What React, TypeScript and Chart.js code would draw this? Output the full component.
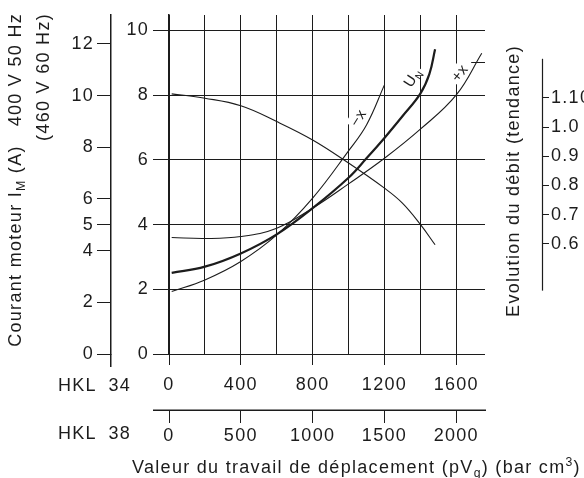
import { useEffect, useRef } from 'react';
import { Chart, registerables } from 'chart.js';

Chart.register(...registerables);

// ---- data ----
const pvUN = [15, 200, 400, 600, 800, 1000, 1100, 1200, 1300, 1400, 1450, 1482];
const currentUN = [2.51, 2.7, 3.11, 3.7, 4.51, 5.45, 6.05, 6.68, 7.35, 8.05, 8.65, 9.42];
const pvMinus = [15, 200, 400, 600, 800, 1000, 1100, 1200];
const currentMinus = [1.93, 2.29, 2.86, 3.68, 4.82, 6.28, 7.08, 8.32];
const pvPlus = [15, 200, 400, 600, 800, 1000, 1200, 1400, 1600, 1742];
const currentPlus = [3.6, 3.57, 3.63, 3.89, 4.51, 5.26, 6.05, 6.95, 8.01, 9.3];
const pvFlow = [15, 200, 400, 600, 800, 1000, 1200, 1300, 1400, 1482];
const flowTrend = [1.114, 1.099, 1.073, 1.019, 0.956, 0.877, 0.791, 0.74, 0.667, 0.597];

const hkl34Grid = [0, 200, 400, 600, 800, 1000, 1200, 1400, 1600];
const hkl34Labels = [0, 400, 800, 1200, 1600];
const hkl38Ticks = [0, 500, 1000, 1500, 2000];
const current460Ticks = [0, 2, 4, 6, 8, 10];
const current400Ticks = [0, 2, 4, 5, 6, 8, 10, 12];
const flowTicks = [0.6, 0.7, 0.8, 0.9, 1.0, 1.1];
const flowTickLabels = ['0.6', '0.7', '0.8', '0.9', '1.0', '1.10'];

const ink = '#1c1c1c';
const FAMILY = "'Liberation Sans', Arial, Helvetica, sans-serif";
const FS = 18;
const SPACING = '1.3px';
const tickFont = { family: FAMILY, size: FS };

type Seg = { t: string; k?: 'sub' | 'sup' };

function drawRich(ctx: CanvasRenderingContext2D, segs: Seg[], x: number, y: number, size: number, align: 'left' | 'center' | 'right') {
  const f = (s: Seg) => `${s.k ? size * 0.68 : size}px ${FAMILY}`;
  let total = 0;
  const widths = segs.map((s) => {
    ctx.font = f(s);
    const w = ctx.measureText(s.t).width;
    total += w;
    return w;
  });
  let cx = align === 'left' ? x : align === 'center' ? x - total / 2 : x - total;
  ctx.textAlign = 'left';
  ctx.textBaseline = 'alphabetic';
  segs.forEach((s, i) => {
    ctx.font = f(s);
    const dy = s.k === 'sub' ? size * 0.22 : s.k === 'sup' ? -size * 0.38 : 0;
    ctx.fillText(s.t, cx, y + dy);
    cx += widths[i];
  });
  return total;
}

function pts(xs: number[], ys: number[]) {
  return xs.map((v, i) => ({ x: v, y: ys[i] }));
}

const spacing = {
  id: 'spacing',
  beforeLayout(chart: any) {
    (chart.ctx as any).letterSpacing = SPACING;
  },
  beforeDraw(chart: any) {
    (chart.ctx as any).letterSpacing = SPACING;
  },
};

const decor = {
  id: 'decor',
  afterDraw(chart: any) {
    const { ctx, chartArea: a, scales } = chart;
    const { x, x2, y, yO, yR } = scales;
    ctx.save();
    (ctx as any).letterSpacing = SPACING;
    ctx.strokeStyle = ink;
    ctx.fillStyle = ink;
    // outer current axis extension below the plot
    ctx.lineWidth = 1.5;
    ctx.beginPath();
    ctx.moveTo(Math.round(yO.right) - 0.25, a.bottom);
    ctx.lineTo(Math.round(yO.right) - 0.25, a.bottom + 13);
    ctx.stroke();
    // second (HKL 38) axis line
    ctx.beginPath();
    ctx.moveTo(a.left - 16, Math.round(x2.top) + 0.25);
    ctx.lineTo(a.right + 1, Math.round(x2.top) + 0.25);
    ctx.stroke();
    // flow axis line (partial)
    ctx.lineWidth = 1.2;
    ctx.beginPath();
    ctx.moveTo(Math.round(yR.left) + 0.5, yR.getPixelForValue(1.234));
    ctx.lineTo(Math.round(yR.left) + 0.5, yR.getPixelForValue(0.44));
    ctx.stroke();

    // axis titles
    ctx.save();
    ctx.translate(21, 13);
    ctx.rotate(-Math.PI / 2);
    drawRich(ctx, [{ t: 'Courant moteur I' }, { t: 'M', k: 'sub' }, { t: ' (A)   400 V 50 Hz' }], 0, 0, FS, 'right');
    ctx.restore();
    ctx.save();
    ctx.translate(49, 13);
    ctx.rotate(-Math.PI / 2);
    drawRich(ctx, [{ t: '(460 V 60 Hz)' }], 0, 0, FS, 'right');
    ctx.restore();
    ctx.save();
    ctx.translate(519, 181);
    ctx.rotate(-Math.PI / 2);
    drawRich(ctx, [{ t: 'Evolution du débit (tendance)' }], 0, 0, FS, 'center');
    ctx.restore();
    drawRich(ctx, [{ t: 'Valeur du travail de déplacement (pV' }, { t: 'g', k: 'sub' }, { t: ') (bar cm' }, { t: '3', k: 'sup' }, { t: ')' }], 132, 473, FS, 'left');

    // HKL row labels
    const b1 = x.top + 37;
    const b2 = x2.top + 29;
    drawRich(ctx, [{ t: 'HKL' }], 58, b1, FS, 'left');
    drawRich(ctx, [{ t: '34' }], 131, b1, FS, 'right');
    drawRich(ctx, [{ t: 'HKL' }], 58, b2, FS, 'left');
    drawRich(ctx, [{ t: '38' }], 131, b2, FS, 'right');

    // curve labels
    (ctx as any).letterSpacing = '0.5px';
    const label = (segs: Seg[], dx: number, dy: number, ang: number) => {
      const px = x.getPixelForValue(dx);
      const py = y.getPixelForValue(dy);
      ctx.save();
      ctx.translate(px, py);
      ctx.rotate(ang);
      let w = 0;
      segs.forEach((s) => {
        ctx.font = `${s.k ? 15 * 0.68 : 15}px ${FAMILY}`;
        w += ctx.measureText(s.t).width;
      });
      ctx.fillStyle = '#ffffff';
      ctx.fillRect(-w / 2 - 2, -8, w + 4, 14);
      ctx.fillStyle = ink;
      drawRich(ctx, segs, 0, 5, 15, 'center');
      ctx.restore();
    };
    label([{ t: '−x' }], 1053, 7.3, -1.0);
    label([{ t: 'U' }, { t: 'N', k: 'sub' }], 1355, 8.55, -1.0);
    label([{ t: '+x' }], 1617, 8.69, -0.9);
    // small dash near the +x label
    ctx.lineWidth = 1;
    ctx.beginPath();
    ctx.moveTo(x.getPixelForValue(1683), Math.round(y.getPixelForValue(9.03)) + 0.5);
    ctx.lineTo(x.getPixelForValue(1760), Math.round(y.getPixelForValue(9.03)) + 0.5);
    ctx.stroke();

    ctx.restore();
  },
};

export default function App() {
  const ref = useRef<HTMLCanvasElement>(null);
  useEffect(() => {
    document.body.style.margin = '0';
    const canvas = ref.current!;
    const thin = { borderColor: ink, borderWidth: 1.1, pointRadius: 0, showLine: true, tension: 0.4, fill: false };
    const chart = new Chart(canvas, {
      type: 'scatter',
      data: {
        datasets: [
          { ...thin, label: 'débit', data: pts(pvFlow, flowTrend), yAxisID: 'yR' },
          { ...thin, label: '-x', data: pts(pvMinus, currentMinus), yAxisID: 'y' },
          { ...thin, label: '+x', data: pts(pvPlus, currentPlus), yAxisID: 'y' },
          { ...thin, label: 'UN', data: pts(pvUN, currentUN), yAxisID: 'y', borderWidth: 2.2 },
        ],
      },
      options: {
        responsive: false,
        animation: false,
        events: [],
        layout: { padding: { left: 55, top: 15, right: 0, bottom: 0 } },
        plugins: { legend: { display: false }, tooltip: { enabled: false } },
        scales: {
          x: {
            type: 'linear',
            position: 'bottom',
            weight: 0,
            min: 0,
            max: 1760,
            afterBuildTicks: (s: any) => {
              s.ticks = hkl34Grid.map((v) => ({ value: v }));
            },
            ticks: {
              font: tickFont,
              color: ink,
              padding: 9,
              maxRotation: 0,
              autoSkip: false,
              callback: (v: any) => (hkl34Labels.includes(Number(v)) ? String(v) : ''),
            },
            grid: {
              color: ink,
              lineWidth: 1,
              tickLength: 11,
              tickColor: (c: any) => (c.tick && hkl34Labels.includes(c.tick.value) ? ink : 'rgba(0,0,0,0)'),
            },
            border: { display: false },
            afterFit: (s: any) => {
              s.height = 56;
            },
          },
          x2: {
            type: 'linear',
            position: 'bottom',
            weight: 1,
            min: 0,
            max: 2200,
            afterBuildTicks: (s: any) => {
              s.ticks = hkl38Ticks.map((v) => ({ value: v }));
            },
            ticks: { font: tickFont, color: ink, padding: 2, maxRotation: 0, autoSkip: false, callback: (v: any) => String(v) },
            grid: { drawOnChartArea: false, color: ink, tickLength: 13, lineWidth: 1 },
            border: { display: false },
            afterFit: (s: any) => {
              s.height = 68;
            },
          },
          y: {
            type: 'linear',
            position: 'left',
            weight: 0,
            min: 0,
            max: 10.48,
            afterBuildTicks: (s: any) => {
              s.ticks = current460Ticks.map((v) => ({ value: v }));
            },
            ticks: { font: tickFont, color: ink, padding: 4, callback: (v: any) => String(v) },
            grid: { color: ink, lineWidth: 1, tickLength: 16 },
            border: { display: true, color: ink, width: 1.6 },
            afterFit: (s: any) => {
              s.width = 58;
            },
          },
          yO: {
            type: 'linear',
            position: 'left',
            weight: 1,
            min: 0,
            max: 13.12,
            afterBuildTicks: (s: any) => {
              s.ticks = current400Ticks.map((v) => ({ value: v }));
            },
            ticks: { font: tickFont, color: ink, padding: 3, callback: (v: any) => String(v) },
            grid: { drawOnChartArea: false, color: ink, lineWidth: 1, tickLength: 14 },
            border: { display: true, color: ink, width: 1.5 },
            afterFit: (s: any) => {
              s.width = 56;
            },
          },
          yS: {
            type: 'linear',
            position: 'right',
            weight: 0,
            min: 0,
            max: 1,
            ticks: { display: false },
            grid: { display: false },
            border: { display: false },
            afterFit: (s: any) => {
              s.width = 57;
            },
          },
          yR: {
            type: 'linear',
            position: 'right',
            weight: 1,
            min: 0.223,
            max: 1.384,
            afterBuildTicks: (s: any) => {
              s.ticks = flowTicks.map((v) => ({ value: v }));
            },
            ticks: {
              font: tickFont,
              color: ink,
              padding: 2,
              callback: (v: any) => {
                const i = flowTicks.findIndex((t) => Math.abs(t - Number(v)) < 1e-6);
                return i >= 0 ? flowTickLabels[i] : '';
              },
            },
            grid: { drawOnChartArea: false, color: ink, lineWidth: 1, tickLength: 7 },
            border: { display: false },
            afterFit: (s: any) => {
              s.width = 42;
            },
          },
        },
      },
      plugins: [spacing, decor],
    } as any);
    return () => chart.destroy();
  }, []);
  return (
    <div style={{ width: 584, height: 478, background: '#fff' }}>
      <canvas ref={ref} width={584} height={478} style={{ display: 'block' }} />
    </div>
  );
}
